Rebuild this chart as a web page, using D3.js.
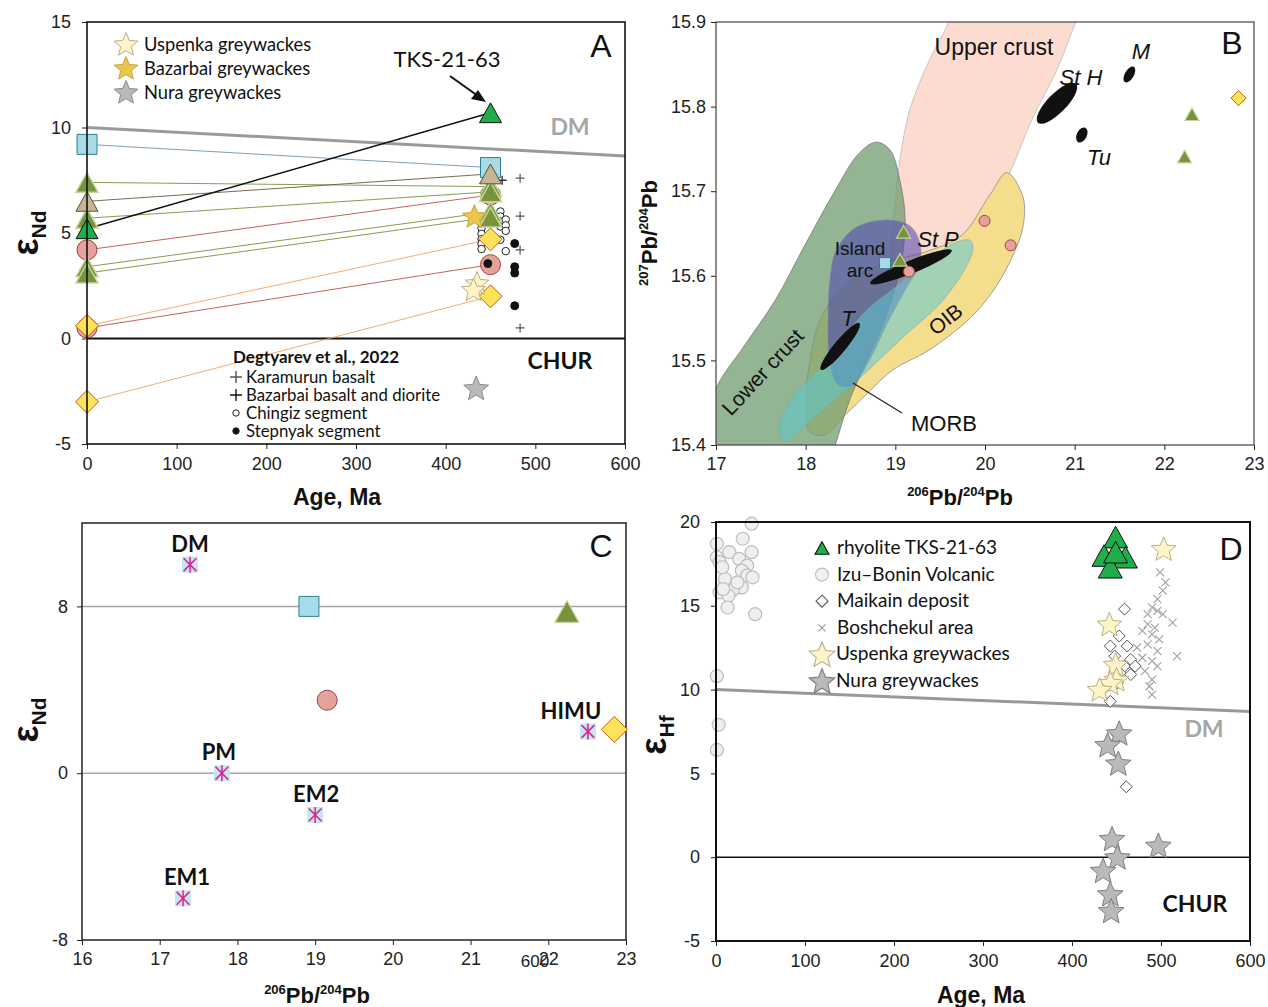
<!DOCTYPE html>
<html>
<head>
<meta charset="utf-8">
<script src="https://cdn.jsdelivr.net/npm/d3@7"></script>
<style>
  body { margin: 0; background: #fff; }
  svg { display: block; }
</style>
</head>
<body>
<svg id="fig" width="1268" height="1007"></svg>
<script>
// ================= DATA =================
// Panel A – εNd vs age: present-day (0 Ma) value linked to initial value at ~450 Ma
const pairKinds   = ['square', 'olive', 'tan', 'olive', 'tks', 'pink', 'olive', 'olive', 'pink', 'diamond', 'diamond'];
const pairEpsNow  = [9.2, 7.4, 6.5, 5.7, 5.2, 4.2, 3.4, 3.1, 0.5, 0.6, -3.0];
const pairAge     = [450, 450, 450, 450, 450, 450, 450, 450, 450, 450, 450];
const pairEpsInit = [8.1, 7.2, 7.8, 6.95, 10.7, 6.8, 6.0, 5.75, 3.5, 4.7, 2.0];

const chingizAge  = [440, 440, 440, 440, 440, 440, 461, 461, 461, 461, 461, 467, 467, 467, 467];
const chingizEps  = [5.47, 5.23, 4.96, 4.71, 4.49, 4.24, 6.02, 5.78, 5.55, 5.31, 4.68, 5.64, 5.36, 5.10, 4.14];
const stepnyakAge = [477, 477, 477, 477, 447];
const stepnyakEps = [4.5, 3.4, 3.1, 1.55, 3.55];
const karamurunAge = [483, 483, 483, 483];
const karamurunEps = [7.6, 5.8, 4.2, 0.5];
const bazarbaiRockAge = [463];
const bazarbaiRockEps = [7.5];
const uspenkaAgeA = [435, 431];
const uspenkaEpsA = [2.63, 2.32];
const bazarbaiGwAgeA = [432];
const bazarbaiGwEpsA = [5.8];
const nuraAgeA = [434];
const nuraEpsA = [-2.35];
const dmLineA = [[0, 10], [600, 8.65]];
const ageTicks = [0, 100, 200, 300, 400, 500, 600];
const epsNdTicksA = [-5, 0, 5, 10, 15];

// Panel B – 207Pb/204Pb vs 206Pb/204Pb, reservoir fields (outline vertices)
const upperCrustField = [[19.70,15.938],[21.17,15.938],[21.01,15.899],[20.80,15.843],[20.52,15.784],[20.29,15.725],[20.06,15.678],[19.78,15.636],[19.44,15.595],[19.16,15.577],[19.00,15.595],[18.96,15.642],[19.00,15.690],[19.05,15.737],[19.16,15.796],[19.38,15.855],[19.59,15.899]];
const lowerCrustField = [[16.71,15.37],[17.00,15.467],[17.32,15.518],[17.66,15.571],[17.99,15.636],[18.33,15.701],[18.58,15.743],[18.78,15.758],[18.94,15.749],[19.05,15.713],[19.11,15.666],[19.05,15.607],[18.88,15.548],[18.66,15.495],[18.49,15.453],[18.33,15.40],[18.22,15.365]];
const oibField = [[20.245,15.722],[20.424,15.693],[20.424,15.658],[20.323,15.627],[20.122,15.587],[19.844,15.551],[19.375,15.512],[18.974,15.489],[18.65,15.457],[18.416,15.433],[18.216,15.412],[18.048,15.415],[18.004,15.453],[18.048,15.50],[18.16,15.548],[18.44,15.589],[18.83,15.613],[19.387,15.630],[19.743,15.648],[20.056,15.696]];
const islandArcField = [[18.93,15.666],[19.163,15.659],[19.264,15.642],[19.275,15.615],[19.13,15.587],[18.93,15.548],[18.695,15.497],[18.517,15.47],[18.36,15.471],[18.27,15.497],[18.25,15.556],[18.27,15.595],[18.338,15.630],[18.572,15.658]];
const morbField = [[19.866,15.634],[19.81,15.615],[19.531,15.571],[19.052,15.524],[18.539,15.473],[18.015,15.426],[17.78,15.404],[17.714,15.414],[17.714,15.426],[17.859,15.457],[18.216,15.497],[18.65,15.556],[19.007,15.587],[19.375,15.619],[19.688,15.640],[19.833,15.642]];
// Ocean-island arrays (St Paul, Tristan, St Helena, Tubuai, Mangaia): long-axis end points
const islandNames = ['St P', 'T', 'St H', 'Tu', 'M'];
const islandFrom  = [[18.72,15.591],[18.17,15.489],[20.59,15.781],[21.04,15.758],[21.56,15.829]];
const islandTo    = [[19.63,15.630],[18.60,15.544],[21.015,15.827],[21.12,15.775],[21.66,15.847]];
const pbSquareB  = [[18.885, 15.615]];
const pbOliveB   = [[19.092, 15.652], [19.052, 15.619], [22.308, 15.791], [22.226, 15.741]];
const pbPinkB    = [[19.152, 15.605], [19.995, 15.665], [20.286, 15.636]];
const pbDiamondB = [[22.828, 15.810]];
const pb206Ticks = [17, 18, 19, 20, 21, 22, 23];
const pb207Ticks = [15.4, 15.5, 15.6, 15.7, 15.8, 15.9];

// Panel C – εNd vs 206Pb/204Pb, mantle end-members
const mantleNames = ['DM', 'PM', 'EM2', 'EM1', 'HIMU'];
const mantlePb    = [17.39, 17.80, 19.00, 17.30, 22.51];
const mantleNd    = [10.0, 0.0, -2.0, -6.0, 2.0];
const sampleKindsC = ['square', 'pink', 'olive', 'diamond'];
const samplePbC    = [18.92, 19.155, 22.24, 22.85];
const sampleNdC    = [8.0, 3.5, 7.75, 2.1];
const pbTicksC  = [16, 17, 18, 19, 20, 21, 22, 23];
const ndTicksC  = [-8, 0, 8];

// Panel D – εHf vs age
const tksAgeD = [449, 436, 460, 443, 449];
const tksHfD  = [19.1, 18.0, 17.9, 17.3, 18.2];
const izuAge = [40, 1, 30, 15, 40, 1, 4, 26, 35, 29, 35, 41, 10, 29, 19, 4, 14, 13, 44, 7, 24, 8, 1, 3, 1];
const izuHf  = [19.9, 18.7, 19.0, 18.2, 18.2, 17.9, 17.6, 17.8, 17.4, 17.1, 16.8, 16.7, 16.6, 16.1, 15.95, 15.8, 15.6, 14.9, 14.5, 17.3, 16.4, 16.0, 10.8, 7.9, 6.4];
const maikainAge = [459, 453, 443, 462, 448, 466, 459, 471, 454, 466, 451, 443, 451, 443, 461];
const maikainHf  = [14.8, 13.2, 12.6, 12.6, 12.0, 11.8, 11.4, 11.4, 11.0, 10.9, 10.4, 9.3, 7.3, 6.7, 4.2];
const boshAge = [499, 505, 502, 496, 490, 496, 485, 502, 513, 485, 493, 479, 490, 498, 485, 473, 496, 518, 479, 490, 468, 496, 482, 490, 487, 490];
const boshHf  = [17.0, 16.4, 15.9, 15.4, 14.9, 14.7, 14.5, 14.5, 14.0, 13.9, 13.7, 13.5, 13.3, 13.0, 12.7, 12.5, 12.3, 12.0, 11.9, 11.7, 11.5, 11.4, 11.1, 10.6, 10.2, 9.7];
const uspenkaAgeD = [503, 442, 449, 450, 443, 431];
const uspenkaHfD  = [18.4, 13.9, 11.5, 10.6, 10.4, 10.0];
const nuraAgeD = [453, 440, 452, 445, 497, 451, 435, 443, 444];
const nuraHfD  = [7.4, 6.7, 5.6, 1.1, 0.7, 0.0, -0.8, -2.2, -3.2];
const dmLineD = [[0, 10], [600, 8.7]];
const hfTicks = [-5, 0, 5, 10, 15, 20];

// ================= STYLE =================
const ARIAL = '"Liberation Sans", Arial, sans-serif';
const HUMAN = 'Lato, "Open Sans", sans-serif';
const plainFmt = d => String(d);
const kindStyle = {
  square:  { shape: 'square',  fill: '#a7dbe7', stroke: '#2f7f94', line: '#6f95b0' },
  olive:   { shape: 'tri',     fill: '#77933c', stroke: '#c3d69b', line: '#77933c' },
  tan:     { shape: 'tri',     fill: '#c4b593', stroke: '#5c4f33', line: '#6b5a3c' },
  tks:     { shape: 'tri',     fill: '#1fae4a', stroke: '#111111', line: '#111111' },
  pink:    { shape: 'circle',  fill: '#e6a19c', stroke: '#a2423d', line: '#c0504d' },
  diamond: { shape: 'diamond', fill: '#fde35a', stroke: '#c55a11', line: '#f7a160' }
};

function shapePath(shape, s) {
  const h = s / 2;
  switch (shape) {
    case 'square':  return `M${-h},${-h}h${s}v${s}h${-s}Z`;
    case 'circle':  return `M${h},0A${h},${h} 0 1,1 ${-h},0A${h},${h} 0 1,1 ${h},0Z`;
    case 'diamond': return `M0,${-h}L${h},0L0,${h}L${-h},0Z`;
    case 'tri': { const t = s * 0.9; return `M0,${-t/2}L${h},${t/2}L${-h},${t/2}Z`; }
    case 'star': {
      const R = h, r = h * 0.45; let p = '';
      for (let i = 0; i < 10; i++) {
        const a = -Math.PI / 2 + i * Math.PI / 5, rr = i % 2 ? r : R;
        p += (i ? 'L' : 'M') + (rr * Math.cos(a)).toFixed(2) + ',' + (rr * Math.sin(a) + h * 0.08).toFixed(2);
      }
      return p + 'Z';
    }
    case 'plus':  return `M${-h},0H${h}M0,${-h}V${h}`;
    case 'cross': return `M${-h},${-h}L${h},${h}M${-h},${h}L${h},${-h}`;
    case 'aster': return `M0,${-h}V${h}M${-h*0.8},${-h*0.8}L${h*0.8},${h*0.8}M${-h*0.8},${h*0.8}L${h*0.8},${-h*0.8}`;
  }
}

const svg = d3.select('#fig');

function drawPoints(g, xs, ys, x, y, shape, size, fill, stroke, sw) {
  g.append('g').selectAll('path').data(d3.zip(xs, ys)).join('path')
    .attr('transform', d => `translate(${x(d[0])},${y(d[1])})`)
    .attr('d', shapePath(shape, size))
    .attr('fill', fill).attr('stroke', stroke).attr('stroke-width', sw);
}

function styleAxis(g, size) {
  g.attr('font-family', ARIAL).attr('font-size', size || 18);
  g.select('.domain').remove();
  g.selectAll('.tick line').attr('stroke', '#222').attr('stroke-width', 1);
  g.selectAll('.tick text').attr('fill', '#222');
}

function epsLabel(x, y, sub) {
  const t = svg.append('text').attr('transform', `translate(${x},${y}) rotate(-90)`)
    .attr('text-anchor', 'middle').attr('font-family', ARIAL).attr('font-weight', 'bold').attr('fill', '#111');
  t.append('tspan').attr('font-size', 36).text('ε');
  t.append('tspan').attr('font-size', 21).attr('dy', 8).text(sub);
}

function pbLabel(x, y, top, bottom, rotate) {
  const t = svg.append('text').attr('transform', `translate(${x},${y})` + (rotate ? ' rotate(-90)' : ''))
    .attr('text-anchor', 'middle').attr('font-family', ARIAL).attr('font-weight', 'bold').attr('fill', '#111');
  t.append('tspan').attr('font-size', 13).attr('dy', -9).text(top);
  t.append('tspan').attr('font-size', 22).attr('dy', 9).text('Pb/');
  t.append('tspan').attr('font-size', 13).attr('dy', -9).text(bottom);
  t.append('tspan').attr('font-size', 22).attr('dy', 9).text('Pb');
}

// ================= PANEL A =================
const xA = d3.scaleLinear().domain([0, 600]).range([87, 625]);
const yA = d3.scaleLinear().domain([-5, 15]).range([444, 22]);
const gA = svg.append('g');

gA.append('line').attr('x1', xA(0)).attr('x2', xA(600)).attr('y1', yA(0)).attr('y2', yA(0))
  .attr('stroke', '#111').attr('stroke-width', 2);
gA.append('path').attr('d', d3.line().x(d => xA(d[0])).y(d => yA(d[1]))(dmLineA))
  .attr('stroke', '#9a9a9a').attr('stroke-width', 3).attr('fill', 'none');

gA.append('g').call(d3.axisBottom(xA).tickValues(ageTicks).tickFormat(plainFmt).tickSize(5).tickPadding(8))
  .attr('transform', `translate(0,${yA(-5)})`).call(styleAxis);
gA.append('g').call(d3.axisLeft(yA).tickValues(epsNdTicksA).tickFormat(plainFmt).tickSize(5).tickPadding(11))
  .attr('transform', `translate(${xA(0)},0)`).call(styleAxis);

// connecting lines
gA.append('g').selectAll('line').data(d3.range(pairKinds.length)).join('line')
  .attr('x1', xA(0)).attr('y1', i => yA(pairEpsNow[i]))
  .attr('x2', i => xA(pairAge[i])).attr('y2', i => yA(pairEpsInit[i]))
  .attr('stroke', i => kindStyle[pairKinds[i]].line)
  .attr('stroke-width', i => pairKinds[i] === 'tks' ? 1.4 : 0.9);

// other datasets
drawPoints(gA, chingizAge, chingizEps, xA, yA, 'circle', 7.5, '#fff', '#222', 1);
drawPoints(gA, karamurunAge, karamurunEps, xA, yA, 'plus', 9, 'none', '#555', 1.2);
drawPoints(gA, bazarbaiRockAge, bazarbaiRockEps, xA, yA, 'plus', 9, 'none', '#333', 1.4);

function pairMarkers(order) {
  order.forEach(kind => {
    const st = kindStyle[kind];
    const idx = d3.range(pairKinds.length).filter(i => pairKinds[i] === kind);
    const size = st.shape === 'diamond' ? 23 : st.shape === 'tri' ? 22 : 20;
    const sw = st.shape === 'tri' && kind === 'olive' ? 1.5 : 1;
    drawPoints(gA, idx.map(() => 0), idx.map(i => pairEpsNow[i]), xA, yA, st.shape, size, st.fill, st.stroke, sw);
    drawPoints(gA, idx.map(i => pairAge[i]), idx.map(i => pairEpsInit[i]), xA, yA, st.shape, size, st.fill, st.stroke, sw);
  });
}
pairMarkers(['pink', 'square', 'olive', 'tan', 'tks', 'diamond']);

drawPoints(gA, stepnyakAge, stepnyakEps, xA, yA, 'circle', 8, '#111', '#111', 1);
drawPoints(gA, uspenkaAgeA, uspenkaEpsA, xA, yA, 'star', 25, '#fff4c8', '#b9ae86', 1);
drawPoints(gA, bazarbaiGwAgeA, bazarbaiGwEpsA, xA, yA, 'star', 25, '#e9c64c', '#c8a540', 1);
drawPoints(gA, nuraAgeA, nuraEpsA, xA, yA, 'star', 26, '#b9b9b9', '#8c8c8c', 1);

gA.append('rect').attr('x', 87).attr('y', 22).attr('width', 538).attr('height', 422)
  .attr('fill', 'none').attr('stroke', '#111').attr('stroke-width', 1.6);

// legend (greywackes)
const legA = [['Uspenka greywackes', '#fff4c8', '#b9ae86'], ['Bazarbai greywackes', '#e9c64c', '#c8a540'], ['Nura greywackes', '#b9b9b9', '#8c8c8c']];
legA.forEach((d, i) => {
  gA.append('path').attr('transform', `translate(126,${44 + i * 24})`).attr('d', shapePath('star', 25))
    .attr('fill', d[1]).attr('stroke', d[2]);
  gA.append('text').attr('x', 144).attr('y', 51 + i * 24).attr('font-family', HUMAN).attr('font-size', 18.3)
    .attr('fill', '#111').text(d[0]);
});
// legend (literature data)
gA.append('text').attr('x', 233).attr('y', 363).attr('font-family', HUMAN).attr('font-weight', 'bold')
  .attr('font-size', 17).attr('fill', '#111').text('Degtyarev et al., 2022');
const legA2 = [['plus', '#555', 'Karamurun basalt'], ['plus', '#111', 'Bazarbai basalt and diorite'], ['open', '#222', 'Chingiz segment'], ['dot', '#111', 'Stepnyak segment']];
legA2.forEach((d, i) => {
  const y = 377 + i * 18;
  if (d[0] === 'plus') gA.append('path').attr('transform', `translate(236,${y})`).attr('d', shapePath('plus', 12)).attr('stroke', d[1]).attr('stroke-width', 1.4);
  else gA.append('circle').attr('cx', 236).attr('cy', y).attr('r', 3.2).attr('fill', d[0] === 'dot' ? '#111' : '#fff').attr('stroke', '#222');
  gA.append('text').attr('x', 246).attr('y', y + 6).attr('font-family', HUMAN).attr('font-size', 16.8).attr('fill', '#111').text(d[2]);
});

gA.append('text').attr('x', 447).attr('y', 67).attr('text-anchor', 'middle').attr('font-family', HUMAN)
  .attr('font-size', 22).attr('fill', '#111').text('TKS-21-63');
gA.append('line').attr('x1', 450).attr('y1', 76).attr('x2', 478).attr('y2', 96).attr('stroke', '#111').attr('stroke-width', 2);
gA.append('path').attr('d', 'M486,102L471,99L478,90Z').attr('fill', '#111');
gA.append('text').attr('x', 601).attr('y', 57).attr('text-anchor', 'middle').attr('font-family', ARIAL)
  .attr('font-size', 32).attr('fill', '#111').text('A');
gA.append('text').attr('x', 570).attr('y', 135).attr('text-anchor', 'middle').attr('font-family', HUMAN)
  .attr('font-weight', 'bold').attr('font-size', 23).attr('fill', '#a6a6a6').text('DM');
gA.append('text').attr('x', 560).attr('y', 369).attr('text-anchor', 'middle').attr('font-family', HUMAN)
  .attr('font-weight', 'bold').attr('font-size', 23).attr('fill', '#111').text('CHUR');
svg.append('text').attr('x', 337).attr('y', 505).attr('text-anchor', 'middle').attr('font-family', ARIAL)
  .attr('font-weight', 'bold').attr('font-size', 23).attr('fill', '#111').text('Age, Ma');
epsLabel(38, 233, 'Nd');

// ================= PANEL B =================
const xB = d3.scaleLinear().domain([17, 23]).range([716, 1254]);
const yB = d3.scaleLinear().domain([15.4, 15.9]).range([445, 22]);
const gB = svg.append('g');
svg.append('clipPath').attr('id', 'clipB').append('rect').attr('x', 716).attr('y', 22).attr('width', 538).attr('height', 423);
const fieldLine = d3.line().x(d => xB(d[0])).y(d => yB(d[1])).curve(d3.curveCatmullRomClosed.alpha(0.5));
const fields = gB.append('g').attr('clip-path', 'url(#clipB)');
fields.append('path').attr('d', fieldLine(upperCrustField)).attr('fill', '#fcdcd1').attr('stroke', '#bbbbbb').attr('stroke-width', 0.8);
fields.append('path').attr('d', fieldLine(oibField)).attr('fill', '#f5dd8e').attr('stroke', '#8c8c8c').attr('stroke-width', 0.8);
fields.append('path').attr('d', fieldLine(lowerCrustField)).attr('fill', '#6f9c6f').attr('fill-opacity', 0.75).attr('stroke', '#7a7a7a').attr('stroke-width', 0.8);
fields.append('path').attr('d', fieldLine(islandArcField)).attr('fill', '#4a3fb0').attr('fill-opacity', 0.55).attr('stroke', '#8a8aa8').attr('stroke-width', 0.6);
fields.append('path').attr('d', fieldLine(morbField)).attr('fill', '#5cc8d2').attr('fill-opacity', 0.55).attr('stroke', '#7aa').attr('stroke-width', 0.6);

const islandWidth = { 'St P': 13, 'T': 12, 'St H': 19, 'Tu': 10, 'M': 9 };
gB.append('g').selectAll('ellipse').data(d3.range(islandNames.length)).join('ellipse')
  .each(function (i) {
    const x1 = xB(islandFrom[i][0]), y1 = yB(islandFrom[i][1]);
    const x2 = xB(islandTo[i][0]), y2 = yB(islandTo[i][1]);
    const cx = (x1 + x2) / 2, cy = (y1 + y2) / 2;
    const len = Math.hypot(x2 - x1, y2 - y1);
    const ang = Math.atan2(y2 - y1, x2 - x1) * 180 / Math.PI;
    d3.select(this).attr('cx', cx).attr('cy', cy).attr('rx', len / 2).attr('ry', islandWidth[islandNames[i]] / 2)
      .attr('transform', `rotate(${ang},${cx},${cy})`).attr('fill', '#111');
  });

drawPoints(gB, pbSquareB.map(d => d[0]), pbSquareB.map(d => d[1]), xB, yB, 'square', 11, '#a7dbe7', '#2f7f94', 1);
drawPoints(gB, pbPinkB.map(d => d[0]), pbPinkB.map(d => d[1]), xB, yB, 'circle', 11, '#e6a19c', '#a2423d', 1);
drawPoints(gB, pbOliveB.map(d => d[0]), pbOliveB.map(d => d[1]), xB, yB, 'tri', 14, '#77933c', '#c3d69b', 1.2);
drawPoints(gB, pbDiamondB.map(d => d[0]), pbDiamondB.map(d => d[1]), xB, yB, 'diamond', 15, '#fde35a', '#c55a11', 1);

gB.append('g').call(d3.axisBottom(xB).tickValues(pb206Ticks).tickFormat(plainFmt).tickSize(5).tickPadding(7))
  .attr('transform', `translate(0,445)`).call(styleAxis);
gB.append('g').call(d3.axisLeft(yB).tickValues(pb207Ticks).tickFormat(d3.format('.1f')).tickSize(5).tickPadding(5))
  .attr('transform', `translate(716,0)`).call(styleAxis);
gB.append('rect').attr('x', 716).attr('y', 22).attr('width', 538).attr('height', 423)
  .attr('fill', 'none').attr('stroke', '#444').attr('stroke-width', 1.2);

const bText = (x, y, s, size, italic, rot) => gB.append('text')
  .attr('transform', `translate(${x},${y})` + (rot ? ` rotate(${rot})` : ''))
  .attr('text-anchor', 'middle').attr('font-family', ARIAL).attr('font-size', size)
  .attr('font-style', italic ? 'italic' : 'normal').attr('fill', '#111').text(s);
bText(994, 55, 'Upper crust', 23);
bText(1081, 85, 'St H', 22, true);
bText(1141, 59, 'M', 22, true);
bText(1099, 165, 'Tu', 22, true);
bText(860, 255, 'Island', 19);
bText(860, 277, 'arc', 19);
bText(938, 247, 'St P', 22, true);
bText(848, 326, 'T', 22, true);
bText(768, 377, 'Lower crust', 21, false, -47);
bText(950, 325, 'OIB', 21, false, -38);
bText(944, 431, 'MORB', 22);
gB.append('line').attr('x1', 902).attr('y1', 413).attr('x2', 853).attr('y2', 383).attr('stroke', '#222').attr('stroke-width', 1.2);
bText(1232, 54, 'B', 32);
pbLabel(960, 505, '206', '204', false);
pbLabel(657, 233, '207', '204', true);

// ================= PANEL C =================
const xC = d3.scaleLinear().domain([16, 23]).range([82, 626]);
const yC = d3.scaleLinear().domain([-8, 12]).range([940, 523]);
const gC = svg.append('g');
gC.append('g').selectAll('line').data(ndTicksC.filter(v => v > -8)).join('line')
  .attr('x1', xC(16)).attr('x2', xC(23)).attr('y1', d => yC(d)).attr('y2', d => yC(d))
  .attr('stroke', '#a6a6a6').attr('stroke-width', 1.5);
gC.append('g').call(d3.axisBottom(xC).tickValues(pbTicksC).tickFormat(plainFmt).tickSize(5).tickPadding(7))
  .attr('transform', `translate(0,940)`).call(styleAxis);
gC.append('g').call(d3.axisLeft(yC).tickValues(ndTicksC).tickFormat(plainFmt).tickSize(5).tickPadding(9))
  .attr('transform', `translate(82,0)`).call(styleAxis);
gC.append('rect').attr('x', 82).attr('y', 523).attr('width', 544).attr('height', 417)
  .attr('fill', 'none').attr('stroke', '#222').attr('stroke-width', 1.5);

const labelShiftC = { DM: 0, PM: -3, EM2: 1, EM1: 4, HIMU: -17 };
const mC = gC.append('g').selectAll('g').data(d3.range(mantleNames.length)).join('g')
  .attr('transform', i => `translate(${xC(mantlePb[i])},${yC(mantleNd[i])})`);
mC.append('rect').attr('x', -8).attr('y', -8).attr('width', 16).attr('height', 16).attr('fill', '#c4e6f0');
mC.append('path').attr('d', shapePath('aster', 16)).attr('stroke', '#e0218a').attr('stroke-width', 1.5);
mC.append('text').attr('x', i => labelShiftC[mantleNames[i]]).attr('y', -13).attr('text-anchor', 'middle').attr('font-family', HUMAN)
  .attr('font-weight', 'bold').attr('font-size', 22).attr('fill', '#111').text(i => mantleNames[i]);

sampleKindsC.forEach((k, i) => {
  const st = kindStyle[k];
  const size = st.shape === 'diamond' ? 26 : st.shape === 'tri' ? 24 : 20;
  drawPoints(gC, [samplePbC[i]], [sampleNdC[i]], xC, yC, st.shape, size, st.fill, st.stroke, k === 'olive' ? 1.2 : 1);
});
gC.append('text').attr('x', 601).attr('y', 557).attr('text-anchor', 'middle').attr('font-family', ARIAL)
  .attr('font-size', 32).attr('fill', '#111').text('C');
gC.append('text').attr('x', 535).attr('y', 967).attr('text-anchor', 'middle').attr('font-family', ARIAL)
  .attr('font-size', 17).attr('fill', '#222').text('600');
pbLabel(317, 1003, '206', '204', false);
epsLabel(38, 720, 'Nd');

// ================= PANEL D =================
const xD = d3.scaleLinear().domain([0, 600]).range([716, 1250]);
const yD = d3.scaleLinear().domain([-5, 20]).range([941, 522]);
const gD = svg.append('g');
gD.append('line').attr('x1', xD(0)).attr('x2', xD(600)).attr('y1', yD(0)).attr('y2', yD(0))
  .attr('stroke', '#111').attr('stroke-width', 1.6);
gD.append('path').attr('d', d3.line().x(d => xD(d[0])).y(d => yD(d[1]))(dmLineD))
  .attr('stroke', '#999').attr('stroke-width', 3).attr('fill', 'none');
gD.append('g').call(d3.axisBottom(xD).tickValues(ageTicks).tickFormat(plainFmt).tickSize(5).tickPadding(8))
  .attr('transform', `translate(0,941)`).call(styleAxis);
gD.append('g').call(d3.axisLeft(yD).tickValues(hfTicks).tickFormat(plainFmt).tickSize(5).tickPadding(11))
  .attr('transform', `translate(716,0)`).call(styleAxis);

drawPoints(gD, izuAge, izuHf, xD, yD, 'circle', 13, '#efefef', '#bdbdbd', 1.2);
drawPoints(gD, boshAge, boshHf, xD, yD, 'cross', 8, 'none', '#a0a0a0', 1.1);
drawPoints(gD, maikainAge, maikainHf, xD, yD, 'diamond', 12, '#fff', '#555', 1);
drawPoints(gD, uspenkaAgeD, uspenkaHfD, xD, yD, 'star', 26, '#fff4c8', '#b9ae86', 1);
drawPoints(gD, nuraAgeD, nuraHfD, xD, yD, 'star', 27, '#b9b9b9', '#7f7f7f', 1);
drawPoints(gD, tksAgeD, tksHfD, xD, yD, 'tri', 24, '#1fae4a', '#111', 1);

gD.append('rect').attr('x', 716).attr('y', 522).attr('width', 534).attr('height', 419)
  .attr('fill', 'none').attr('stroke', '#111').attr('stroke-width', 2);

const legD = [['tri', 14, '#1fae4a', '#111', 'rhyolite TKS-21-63'], ['circle', 13, '#efefef', '#bdbdbd', 'Izu–Bonin Volcanic'],
  ['diamond', 12, '#fff', '#555', 'Maikain deposit'], ['cross', 7, 'none', '#999', 'Boshchekul area'],
  ['star', 27, '#fff4c8', '#b9ae86', 'Uspenka greywackes'], ['star', 27, '#b9b9b9', '#7f7f7f', 'Nura greywackes']];
legD.forEach((d, i) => {
  const y = 548 + i * 26.6;
  gD.append('path').attr('transform', `translate(822,${y})`).attr('d', shapePath(d[0], d[1]))
    .attr('fill', d[2]).attr('stroke', d[3]).attr('stroke-width', 1.1);
  gD.append('text').attr('x', i >= 4 ? 836 : 837).attr('y', y + 6).attr('font-family', HUMAN).attr('font-size', 19)
    .attr('fill', '#111').text(d[4]);
});
gD.append('text').attr('x', 1231).attr('y', 560).attr('text-anchor', 'middle').attr('font-family', ARIAL)
  .attr('font-size', 32).attr('fill', '#111').text('D');
gD.append('text').attr('x', 1204).attr('y', 737).attr('text-anchor', 'middle').attr('font-family', HUMAN)
  .attr('font-weight', 'bold').attr('font-size', 23).attr('fill', '#a6a6a6').text('DM');
gD.append('text').attr('x', 1195).attr('y', 912).attr('text-anchor', 'middle').attr('font-family', HUMAN)
  .attr('font-weight', 'bold').attr('font-size', 23).attr('fill', '#111').text('CHUR');
svg.append('text').attr('x', 981).attr('y', 1003).attr('text-anchor', 'middle').attr('font-family', ARIAL)
  .attr('font-weight', 'bold').attr('font-size', 23).attr('fill', '#111').text('Age, Ma');
epsLabel(666, 735, 'Hf');
</script>
</body>
</html>
